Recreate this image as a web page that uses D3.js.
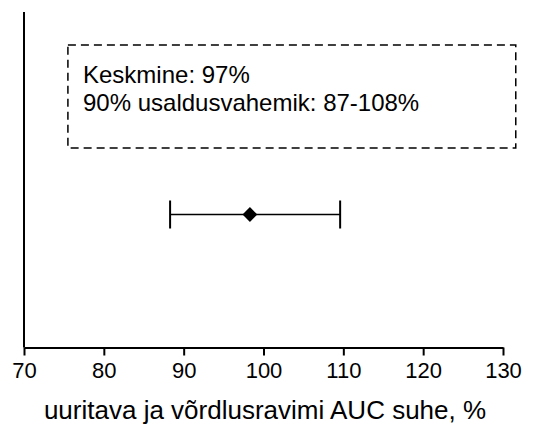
<!DOCTYPE html>
<html>
<head>
<meta charset="utf-8">
<script src="https://cdn.jsdelivr.net/npm/d3@7"></script>
<style>
  html, body { margin: 0; padding: 0; background: #fff; }
  svg { display: block; font-family: "Liberation Sans", Arial, sans-serif; }
</style>
</head>
<body>
<svg id="chart" width="547" height="427"></svg>
<script>
// Data
const xTicks = [70, 80, 90, 100, 110, 120, 130];
const pointEstimate = [98.3];
const ciLower = [88.3];
const ciUpper = [109.6];
const boxLines = ["Keskmine: 97%", "90% usaldusvahemik: 87-108%"];
const xTitle = "uuritava ja võrdlusravimi AUC suhe, %";

const svg = d3.select("#chart");
const left = 24, right = 503, axisY = 347.5, topY = 12;

const x = d3.scaleLinear().domain([70, 130]).range([left, right]);

// y axis line
svg.append("line")
  .attr("x1", left).attr("x2", left)
  .attr("y1", topY).attr("y2", axisY)
  .attr("stroke", "#000").attr("stroke-width", 2);

// x axis
const xAxis = d3.axisBottom(x).tickValues(xTicks).tickSize(8).tickSizeOuter(0).tickPadding(7).tickFormat(d3.format("d"));
const gx = svg.append("g").attr("transform", `translate(0,${axisY})`).call(xAxis);
gx.select(".domain").attr("stroke", "#000").attr("stroke-width", 2);
gx.selectAll(".tick line").attr("stroke", "#000").attr("stroke-width", 2);
gx.selectAll(".tick text").attr("fill", "#000").attr("font-size", 22)
  .attr("font-family", "Liberation Sans, Arial, sans-serif");

// Dashed box
const bx0 = x(75.5), bx1 = x(131.6), by0 = 45, by1 = 148;
svg.append("rect")
  .attr("x", bx0).attr("y", by0).attr("width", bx1 - bx0).attr("height", by1 - by0)
  .attr("fill", "none").attr("stroke", "#000").attr("stroke-width", 1.5)
  .attr("stroke-dasharray", "8,5");

svg.append("g").selectAll("text").data(boxLines).join("text")
  .attr("x", 83)
  .attr("y", (d, i) => 83 + i * 28)
  .attr("font-size", 24)
  .attr("fill", "#000")
  .text(d => d);

// Error bar
const ey = 214.5;
const eg = svg.append("g");
pointEstimate.forEach((m, i) => {
  eg.append("line").attr("x1", x(ciLower[i])).attr("x2", x(ciUpper[i]))
    .attr("y1", ey).attr("y2", ey).attr("stroke", "#000").attr("stroke-width", 1.5);
  [ciLower[i], ciUpper[i]].forEach(v => {
    eg.append("line").attr("x1", x(v)).attr("x2", x(v))
      .attr("y1", ey - 14).attr("y2", ey + 14)
      .attr("stroke", "#000").attr("stroke-width", 2);
  });
  eg.append("path")
    .attr("d", d3.symbol().type(d3.symbolDiamond2).size(140)())
    .attr("transform", `translate(${x(m)},${ey})`)
    .attr("fill", "#000");
});

// X title
svg.append("text")
  .attr("x", 265)
  .attr("y", 419)
  .attr("text-anchor", "middle")
  .attr("font-size", 26)
  .attr("fill", "#000")
  .text(xTitle);
</script>
</body>
</html>
